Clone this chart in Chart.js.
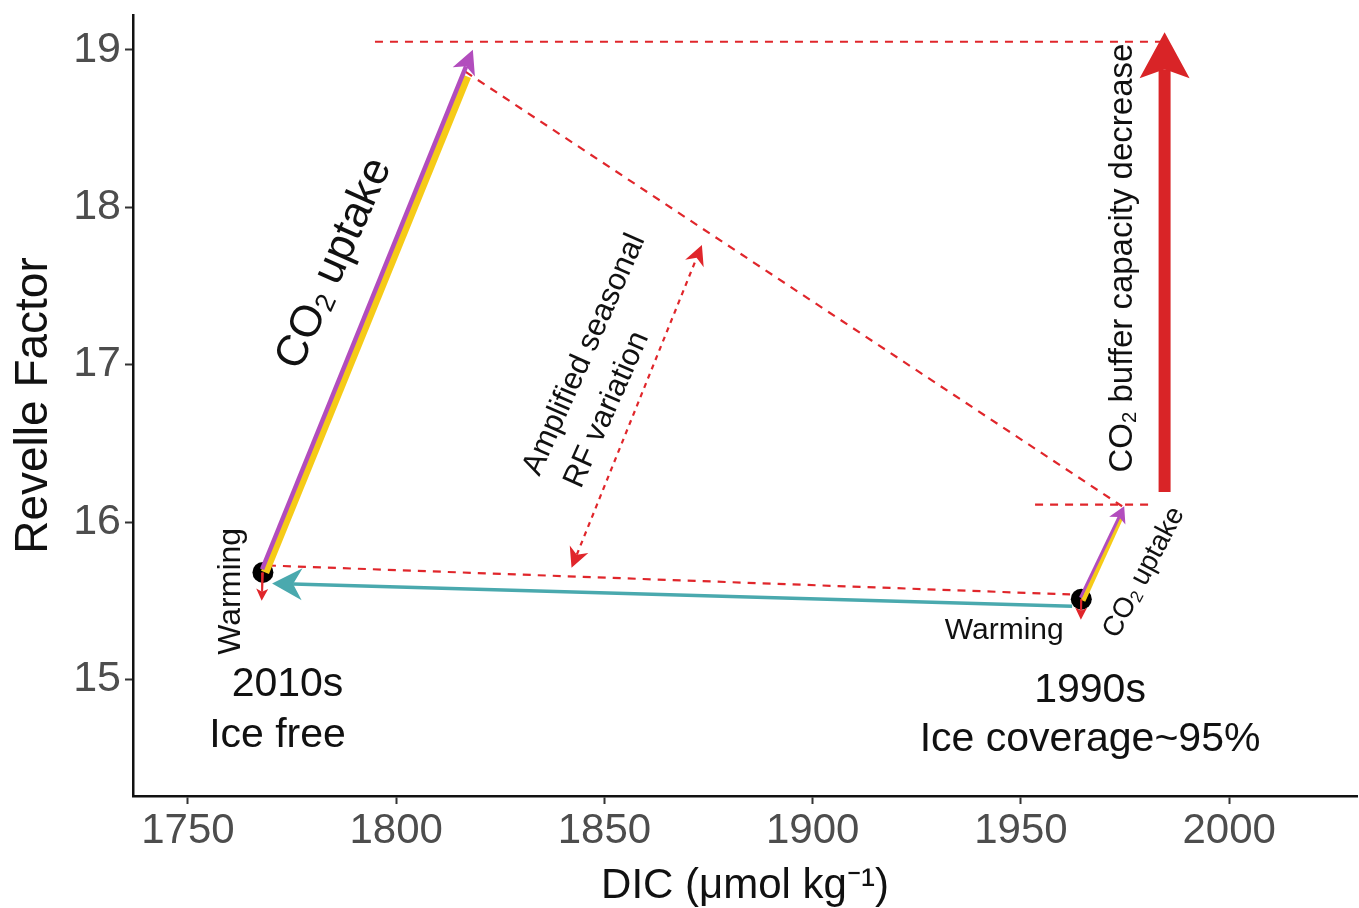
<!DOCTYPE html>
<html><head><meta charset="utf-8">
<script src="https://cdn.jsdelivr.net/npm/chart.js@4"></script>
<style>html,body{margin:0;padding:0;background:#fff;overflow:hidden}#wrap{width:1359px;height:908px;position:relative;overflow:hidden}canvas{display:block}</style>
</head><body><div id="wrap"><canvas id="c" width="1359" height="908"></canvas></div>
<script>
// ---- axes ----
const xTicks = [1750, 1800, 1850, 1900, 1950, 2000];
const yTicks = [15, 16, 17, 18, 19];
const xRange = [1736.8, 2030.7];
const yRange = [14.26, 19.22];

// ---- states (DIC, Revelle factor) ----
const state2010s = [[1768.0, 15.68]];
const state1990s = [[1964.5, 15.51]];

// ---- arrows / segments [DIC, RF] ----
const co2UptakeBig        = [[1767.8, 15.70], [1818.4, 19.00]];
const co2UptakeBigShade   = [[1768.5, 15.68], [1817.0, 18.83]];
const co2UptakeSmall      = [[1964.3, 15.52], [1974.8, 16.10]];
const co2UptakeSmallShade = [[1964.9, 15.50], [1974.2, 16.04]];
const iceLossShift        = [[1962.3, 15.465], [1770.2, 15.61]];
const warming2010s        = [[1768.0, 15.68], [1767.7, 15.50]];
const warming1990s        = [[1964.5, 15.51], [1964.4, 15.38]];
const bufferDecrease      = [[1984.5, 16.19], [1984.5, 19.11]];
const guideTop            = [[1794.9, 19.05], [1985.0, 19.05]];
const guideDiag           = [[1816.6, 18.86], [1974.3, 16.10]];
const guideMid            = [[1953.4, 16.11], [1981.0, 16.11]];
const guideLow            = [[1769.2, 15.724], [1961.8, 15.54]];
const seasonalRange       = [[1842.1, 15.71], [1873.4, 17.76]];

// ---- text labels ----
const FONT = "'Liberation Sans', Arial, Helvetica, sans-serif";
const labels = [
  {parts: [['CO'], ['2', 'sub'], [' uptake']], at: [1785.2, 17.64], rot: -66, size: 44},
  {parts: [['CO'], ['2', 'sub'], [' uptake']], at: [1979.6, 15.68], rot: -62, size: 28},
  {parts: [['CO'], ['2', 'sub'], [' buffer capacity decrease']], at: [1974.6, 17.676], rot: -90, size: 33},
  {parts: [['Amplified seasonal']], at: [1845.2, 17.063], rot: -66, size: 31},
  {parts: [['RF variation']], at: [1850.6, 16.714], rot: -66, size: 31},
  {parts: [['Warming']], at: [1760.3, 15.56], rot: -90, size: 32},
  {parts: [['Warming']], at: [1946.0, 15.311], rot: 0, size: 30},
  {parts: [['2010s']], at: [1773.9, 14.968], rot: 0, size: 41},
  {parts: [['Ice free']], at: [1771.5, 14.644], rot: 0, size: 41},
  {parts: [['1990s']], at: [1966.6, 14.93], rot: 0, size: 41},
  {parts: [['Ice coverage~95%']], at: [1966.6, 14.619], rot: 0, size: 41}
];

const pts = a => a.map(p => ({x: p[0], y: p[1]}));
const RED = '#e0262b';

function seg(data, color, width, extra) {
  return Object.assign({type: 'scatter', data: pts(data), showLine: true, borderColor: color,
    backgroundColor: color, borderWidth: width, pointRadius: 0, borderCapStyle: 'butt', fill: false}, extra || {});
}

const datasets = [
  seg(guideTop, RED, 2.2, {borderDash: [8, 7], order: 20}),
  seg(guideDiag, RED, 2.2, {borderDash: [8, 7], order: 20}),
  seg(guideMid, RED, 2.2, {borderDash: [8, 7], order: 20}),
  seg(guideLow, RED, 2.2, {borderDash: [8, 7], order: 20}),
  seg(seasonalRange, RED, 2.2, {borderDash: [5, 5], order: 20,
      heads: {end: {len: 20, half: 10, notch: 6}, start: {len: 20, half: 10, notch: 6}}}),
  {type: 'scatter', data: pts(state2010s), pointRadius: 10.5, pointBackgroundColor: '#000', pointBorderWidth: 0, order: 15},
  {type: 'scatter', data: pts(state1990s), pointRadius: 10.5, pointBackgroundColor: '#000', pointBorderWidth: 0, order: 15},
  seg(co2UptakeBigShade, '#f6cb17', 8.5, {order: 9}),
  seg(co2UptakeBig, '#b24dbd', 4.5, {order: 8, heads: {end: {len: 24, half: 12, notch: 6}}}),
  seg(co2UptakeSmallShade, '#f6cb17', 5, {order: 9}),
  seg(co2UptakeSmall, '#b24dbd', 3, {order: 8, heads: {end: {len: 16, half: 9, notch: 4}}}),
  seg(iceLossShift, '#4aa9ae', 3.5, {order: 7, heads: {end: {len: 30, half: 16, notch: 9}}}),
  seg(warming2010s, RED, 2, {order: 5, heads: {end: {len: 12, half: 6, notch: 3}}}),
  seg(warming1990s, RED, 2, {order: 5, heads: {end: {len: 12, half: 6, notch: 3}}}),
  seg(bufferDecrease, '#d92427', 12, {order: 6, heads: {end: {len: 46, half: 25, notch: 9}}})
];

function unit(a, b) {
  const dx = b.x - a.x, dy = b.y - a.y, l = Math.hypot(dx, dy) || 1;
  return {x: dx / l, y: dy / l};
}
function pixelPts(chart, ds) {
  const xs = chart.scales.x, ys = chart.scales.y;
  return ds.data.map(d => ({x: xs.getPixelForValue(d.x), y: ys.getPixelForValue(d.y)}));
}
function drawHead(ctx, tip, u, h, color) {
  const px = -u.y, py = u.x;
  const bx = tip.x - u.x * h.len, by = tip.y - u.y * h.len;
  const nx = tip.x - u.x * (h.len - h.notch), ny = tip.y - u.y * (h.len - h.notch);
  ctx.beginPath();
  ctx.moveTo(tip.x, tip.y);
  ctx.lineTo(bx + px * h.half, by + py * h.half);
  ctx.lineTo(nx, ny);
  ctx.lineTo(bx - px * h.half, by - py * h.half);
  ctx.closePath();
  ctx.fillStyle = color;
  ctx.fill();
}

const arrowPlugin = {
  id: 'arrows',
  beforeDatasetDraw(chart, args) {
    const ds = chart.data.datasets[args.index];
    if (!ds.heads) return;
    const P = pixelPts(chart, ds), el = args.meta.data, n = P.length;
    if (ds.heads.end) {
      const u = unit(P[n - 2], P[n - 1]), s = ds.heads.end.len - ds.heads.end.notch;
      el[n - 1].x = P[n - 1].x - u.x * s; el[n - 1].y = P[n - 1].y - u.y * s;
    }
    if (ds.heads.start) {
      const u = unit(P[1], P[0]), s = ds.heads.start.len - ds.heads.start.notch;
      el[0].x = P[0].x - u.x * s; el[0].y = P[0].y - u.y * s;
    }
    if (args.meta.dataset) args.meta.dataset._path = undefined;
  },
  afterDatasetDraw(chart, args) {
    const ds = chart.data.datasets[args.index];
    if (!ds.heads) return;
    const ctx = chart.ctx, P = pixelPts(chart, ds), n = P.length;
    ctx.save();
    if (ds.heads.end) drawHead(ctx, P[n - 1], unit(P[n - 2], P[n - 1]), ds.heads.end, ds.borderColor);
    if (ds.heads.start) drawHead(ctx, P[0], unit(P[1], P[0]), ds.heads.start, ds.borderColor);
    ctx.restore();
  }
};

const textPlugin = {
  id: 'texts',
  afterDatasetsDraw(chart) {
    const ctx = chart.ctx, xs = chart.scales.x, ys = chart.scales.y;
    labels.forEach(l => {
      const x = xs.getPixelForValue(l.at[0]), y = ys.getPixelForValue(l.at[1]);
      ctx.save();
      ctx.translate(x, y);
      ctx.rotate(l.rot * Math.PI / 180);
      ctx.fillStyle = '#111';
      ctx.textBaseline = 'middle';
      ctx.textAlign = 'left';
      const parts = l.parts.map(p => {
        const sub = p[1] === 'sub';
        const size = sub ? l.size * 0.62 : l.size;
        ctx.font = size + 'px ' + FONT;
        return {t: p[0], sub, size, w: ctx.measureText(p[0]).width};
      });
      let cx = -parts.reduce((s, p) => s + p.w, 0) / 2;
      parts.forEach(p => {
        ctx.font = p.size + 'px ' + FONT;
        ctx.fillText(p.t, cx, p.sub ? l.size * 0.2 : 0);
        cx += p.w;
      });
      ctx.restore();
    });
  }
};

new Chart(document.getElementById('c'), {
  type: 'scatter',
  data: {datasets},
  plugins: [arrowPlugin, textPlugin],
  options: {
    responsive: false, animation: false, events: [], devicePixelRatio: 1,
    layout: {autoPadding: false, padding: {top: 15, right: 2, left: 0, bottom: 0}},
    plugins: {legend: {display: false}, tooltip: {enabled: false}},
    scales: {
      x: {
        type: 'linear', min: xRange[0], max: xRange[1],
        afterBuildTicks: s => { s.ticks = xTicks.map(v => ({value: v})); },
        afterFit: s => { s.height = 112; s.paddingLeft = 0; s.paddingRight = 0; },
        grid: {display: true, drawOnChartArea: false, drawTicks: true, tickLength: 8, tickWidth: 2, tickColor: '#333'},
        border: {display: true, color: '#111', width: 2.5},
        ticks: {font: {family: FONT, size: 42}, color: '#4d4d4d', padding: 2, maxRotation: 0, autoSkip: false, callback: v => String(v)},
        title: {display: true, text: 'DIC (\u03bcmol kg\u207b\u00b9)', font: {family: FONT, size: 42, lineHeight: 1.05}, color: '#111', padding: {top: 0, bottom: 0}}
      },
      y: {
        type: 'linear', min: yRange[0], max: yRange[1],
        afterBuildTicks: s => { s.ticks = yTicks.map(v => ({value: v})); },
        afterFit: s => { s.width = 133; s.paddingTop = 0; s.paddingBottom = 0; },
        grid: {display: true, drawOnChartArea: false, drawTicks: true, tickLength: 8, tickWidth: 2, tickColor: '#333'},
        border: {display: true, color: '#111', width: 2.5},
        ticks: {font: {family: FONT, size: 43}, color: '#4d4d4d', padding: 4, autoSkip: false, callback: v => String(v)},
        title: {display: true, text: 'Revelle Factor', font: {family: FONT, size: 46}, color: '#111', padding: {top: 7, bottom: 0}}
      }
    }
  }
});
</script>
</body></html>
